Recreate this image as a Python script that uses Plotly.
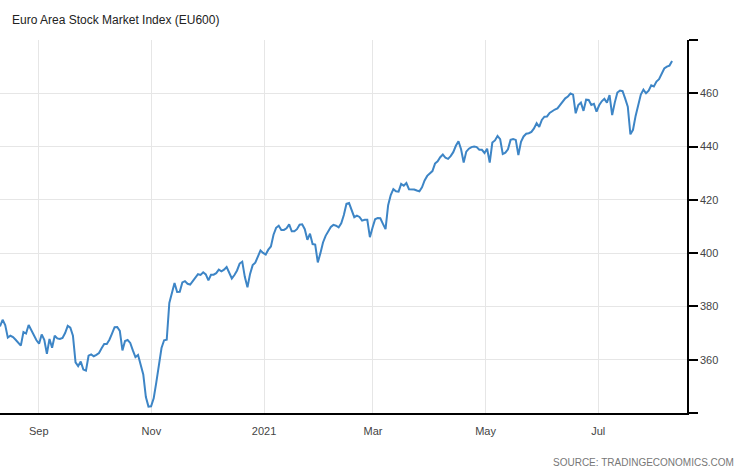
import pandas as pd
import plotly.graph_objects as go

start_date = "2020-08-11"
end_date = "2021-08-10"

values = [
    372.5, 375, 373, 368.3, 369, 368.5, 367.5, 366.5, 365.3, 370.4,
    369.8, 373, 371, 369, 367.3, 366, 369.5, 367.5, 362.2, 367.8,
    364.5, 369, 368, 367.8, 368.2, 370, 372.7, 372, 369, 359,
    357.6, 359.3, 356.3, 355.9, 361.5, 362, 361.3, 361.8, 362.5, 364.3,
    365.9, 365.9, 367.5, 369.8, 372.2, 372.3, 370.8, 363.5, 367, 367.4,
    366.3, 363.5, 361, 361.8, 358, 354.5, 346, 342.4, 342.5, 345.5,
    351.5, 358.5, 364.4, 367.3, 367.5, 381.3, 385, 388.8, 385.4, 385.5,
    389, 389.5, 388.5, 388.2, 389.5, 390.8, 392.1, 391.8, 392.8, 392,
    389.8, 391.9, 391.9, 392.5, 393.8, 393.2, 393.8, 394.8, 392.5, 390.5,
    391.8, 393.5, 396.1, 396.8, 391, 387.2, 392.2, 395.5, 396.4, 398.5,
    401,
    400.1, 399.5, 401.3, 402.5, 406.9, 409.5, 410.3, 408.7, 408.7, 409.3,
    410.8, 408.2, 408.2, 409, 410.7, 410.8, 409, 405, 407.3, 403.4,
    403.2, 396.5, 400, 404, 406.5, 408, 409.8, 410.6, 410.3, 409.7,
    411.2, 414.3, 418.5, 418.8, 416, 413.5, 414.1, 413.6, 412.2, 412.5,
    412.5, 406, 409.5, 412.7, 413.2, 413.1, 411, 409, 418,
    421.8, 424, 423.2, 423.1, 426, 425.3, 426.3, 424, 424, 423.9,
    423.5, 423.2, 424.7, 427.3, 429, 430, 430.8, 433.6, 434.5, 436,
    437, 435.8, 435.4, 436.4, 437.9, 440.3, 442, 439, 434, 438.1,
    439.2, 439.8, 440, 439.8, 438.8, 438.8, 437.6, 439.2, 434, 441.5,
    442.3, 444, 442.8, 437.2, 437.7, 439, 442.5, 442.8, 442.5, 436.8,
    441.8, 443.8, 444.8, 445,
    445.5, 446.8, 448.8, 447.4, 450, 451.2, 451.3, 452.6, 453.3, 453.9,
    454.3, 455.5, 457.1, 458.1, 458.8, 459.9, 459.5, 452.5, 455.6, 456.5,
    453.4, 457.6, 457.5, 455.6, 456, 453.1, 455.5, 457, 457.9, 456.5,
    459.3, 451.8, 456.5, 460.3, 461, 460.8, 458, 455, 444.6, 446.3,
    451.5, 455.8, 459.5, 461.4, 460, 461, 463, 462.6, 464.4, 465.3,
    467.4, 469.3, 470, 470.4, 472.1,
]

dates = pd.date_range(start_date, end_date, periods=len(values))

x_tick_dates = ["2020-09-01", "2020-11-01", "2021-01-01", "2021-03-01", "2021-05-01", "2021-07-01"]
x_tick_labels = ["Sep", "Nov", "2021", "Mar", "May", "Jul"]
y_tick_vals = [340, 360, 380, 400, 420, 440, 460, 480]
y_tick_labels = ["", "360", "380", "400", "420", "440", "460", ""]

title_text = "Euro Area Stock Market Index (EU600)"
source_text = "SOURCE: TRADINGECONOMICS.COM"

W, H = 746, 468
ml, mr, mt, mb = 0, 59, 40, 55
pw, ph = W - ml - mr, H - mt - mb

fig = go.Figure()
fig.add_trace(go.Scatter(
    x=dates, y=values, mode="lines",
    line=dict(color="#3d85c6", width=2),
    hoverinfo="x+y", showlegend=False,
))

font_family = "Liberation Sans, Arial, sans-serif"

fig.update_layout(
    width=W, height=H,
    margin=dict(l=ml, r=mr, t=mt, b=mb, pad=0),
    paper_bgcolor="white", plot_bgcolor="white",
    font=dict(family=font_family, size=11, color="#333333"),
    xaxis=dict(
        range=["2020-08-11", "2021-08-18 02:00"],
        tickmode="array", tickvals=x_tick_dates, ticktext=x_tick_labels,
        showgrid=True, gridcolor="#e6e6e6", gridwidth=1,
        showline=True, linecolor="#000000", linewidth=1.5,
        ticks="outside", ticklen=7, tickcolor="rgba(0,0,0,0)",
        tickfont=dict(size=11, color="#444444"),
        zeroline=False, fixedrange=True,
    ),
    yaxis=dict(
        range=[340, 480], side="right",
        tickmode="array", tickvals=y_tick_vals, ticktext=y_tick_labels,
        showgrid=True, gridcolor="#e6e6e6", gridwidth=1,
        showline=True, linecolor="#000000", linewidth=1.5,
        ticks="outside", ticklen=9, tickcolor="#000000", tickwidth=1.5,
        tickfont=dict(size=11, color="#444444"),
        zeroline=False, fixedrange=True,
    ),
    annotations=[
        dict(text=title_text, xref="paper", yref="paper",
             x=10 / pw, y=(ph + mt - 20) / ph, xanchor="left", yanchor="middle",
             showarrow=False, font=dict(size=12, color="#222222", family=font_family)),
        dict(text=source_text, xref="paper", yref="paper",
             x=736 / pw, y=-(462 - (mt + ph)) / ph, xanchor="right", yanchor="middle",
             showarrow=False, font=dict(size=10, color="#777777", family=font_family)),
    ],
)

fig.write_html("out.html", config={"displayModeBar": False},
               post_script="document.body.style.margin='0px';document.body.style.overflow='hidden';")
